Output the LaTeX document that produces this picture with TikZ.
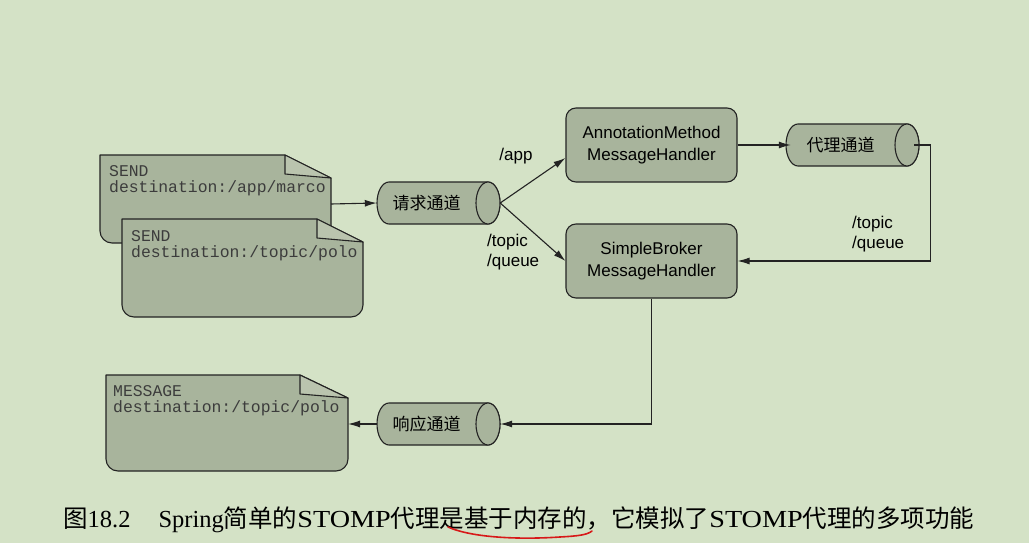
\documentclass[tikz,border=0pt]{standalone}
\usepackage{fontspec}
\usepackage{graphicx}
\setmainfont{Liberation Serif}
\newfontfamily\sansf{Liberation Sans}
\newfontfamily\monof{Liberation Mono}
\newfontfamily\cjk{Noto Sans CJK SC}
\usetikzlibrary{arrows.meta}
\definecolor{bgc}{RGB}{212,226,198}
\definecolor{fillc}{RGB}{168,180,156}
\definecolor{foldc}{RGB}{186,196,174}
\definecolor{linec}{RGB}{35,35,35}
\definecolor{monoc}{RGB}{60,60,60}
\definecolor{penred}{RGB}{215,25,25}
\newcommand\cylbody[3]{%
  \filldraw[cylshape] ({#1+12},{#2+21}) -- ({#3-12},{#2+21})
    arc[start angle=90,end angle=-90,x radius=12,y radius=21]
    -- ({#1+12},{#2-21})
    arc[start angle=270,end angle=90,x radius=12,y radius=21] -- cycle;
  \draw[cylshape] ({#3-12},#2) ellipse[x radius=12,y radius=21];}
\newcommand\docshape[6]{%
  \filldraw[docfill] (#1,#2) -- (#5,#2) -- (#3,#6) -- (#3,{#4+12})
    arc[start angle=0,end angle=-90,radius=12] -- ({#1+12},#4)
    arc[start angle=270,end angle=180,radius=12] -- cycle;
  \filldraw[foldfill] (#5,#2) -- (#5,{#6+4}) -- (#3,#6) -- cycle;}
\newcommand\wideSTOMP{\scalebox{1.15}[1]{STOMP}}
\tikzset{
  x=1pt,y=1pt,
  cylshape/.style={fill=fillc,draw=linec,line width=1.1pt},
  docfill/.style={fill=fillc,draw=linec,line width=1.1pt,line join=round},
  foldfill/.style={fill=foldc,draw=linec,line width=1.1pt,line join=round},
  chan/.style={rectangle,minimum width=123pt,minimum height=42pt,inner sep=0pt,
    label={[font=\cjk\fontsize{17}{20}\selectfont,xshift=-12pt,text=black]center:#1}},
  handler/.style={rectangle,rounded corners=10pt,fill=fillc,draw=linec,line width=1.1pt,
    minimum width=171pt,minimum height=74pt,align=center,inner sep=0pt,
    font=\sansf\fontsize{17}{21.5}\selectfont},
  doctext/.style={anchor=north west,inner sep=0pt,align=left,text=monoc,
    font=\monof\fontsize{16.4}{16.6}\selectfont},
  lbl/.style={inner sep=0pt,align=left,font=\sansf\fontsize{17}{20.5}\selectfont},
  arr/.style={draw=linec,line width=1.1pt,-{Latex[length=12pt,width=7pt]}},
}
\begin{document}
\begin{tikzpicture}
\fill[bgc] (0,0) rectangle (1029,-543);
\useasboundingbox (0,0) rectangle (1029,-543);
% channels
\cylbody{377}{-203}{500}
\cylbody{786}{-145}{919}
\cylbody{377}{-424}{500}
\node[chan=请求通道] (req) at (438.5,-203) {};
\node[chan=代理通道] (proxy) at (852.5,-145) {};
\node[chan=响应通道] (resp) at (438.5,-424) {};
% handlers
\node[handler] (annot) at (651.5,-145) {AnnotationMethod\\MessageHandler};
\node[handler] (broker) at (651.5,-261) {SimpleBroker\\MessageHandler};
% documents
\docshape{100}{-155}{331}{-243}{285}{-178}
\node[doctext] (d1) at (109,-165) {SEND\\destination:/app/marco};
\docshape{122}{-219}{363}{-317}{317}{-242}
\node[doctext] (d2) at (131,-230) {SEND\\destination:/topic/polo};
\docshape{106}{-375}{348}{-471}{300}{-398}
\node[doctext] (d3) at (113,-385) {MESSAGE\\destination:/topic/polo};
\coordinate (d1out) at (331,-204);
\coordinate (d3in) at (348,-424);
% connectors
\draw[arr] (d1out) -- (req.west);
\draw[arr] (req.east) -- ([yshift=-13pt]annot.west);
\draw[arr] (req.east) -- (broker.west);
\draw[arr] (annot.east) -- (proxy.west);
\draw[arr] (proxy.east) -- ++(16,0) |- (broker.east);
\draw[arr] (broker.south) |- (resp.east);
\draw[arr] (resp.west) -- (d3in);
% labels
\node[lbl] (lapp) at (516,-156) {/app};
\node[lbl,anchor=west] (ltq) at (487,-252) {/topic\\/queue};
\node[lbl,anchor=west] (rtq) at (852,-234) {/topic\\/queue};
% caption
\node[anchor=base west,inner sep=0pt,font=\fontsize{24.5}{28}\selectfont] (cap) at (63,-527)
  {{\cjk 图}18.2\hspace{28pt}Spring{\cjk 简单的}\wideSTOMP{\cjk 代理是基于内存的，它模拟了}\wideSTOMP{\cjk 代理的多项功能}};
\draw[penred,line width=1.6pt,line cap=round] (448,-527) .. controls (470,-537) and (515,-540) .. (560,-537)
  .. controls (578,-536) and (587,-535) .. (592,-531);
\end{tikzpicture}
\end{document}
